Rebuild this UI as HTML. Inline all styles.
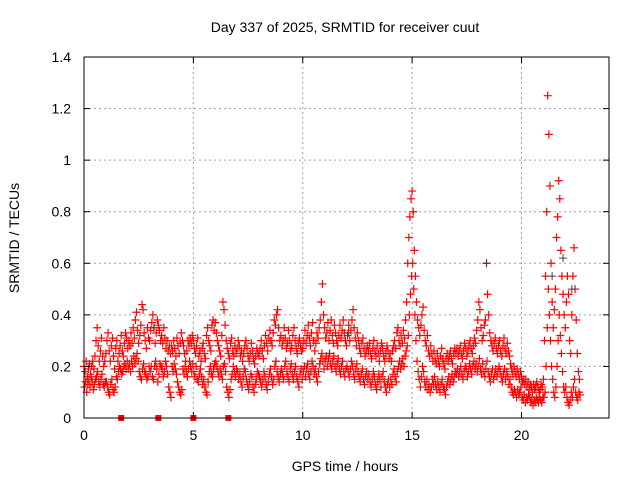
<!DOCTYPE html>
<html><head><meta charset="utf-8"><style>
body{margin:0;background:#fff}
svg{display:block;font-family:"Liberation Sans",sans-serif}
</style></head><body>
<svg id="chart" width="640" height="480">
<text x="345" y="32" font-size="14" text-anchor="middle">Day 337 of 2025, SRMTID for receiver cuut</text>
<text x="345" y="471" font-size="14" text-anchor="middle">GPS time / hours</text>
<text transform="translate(19,238) rotate(-90)" font-size="14" text-anchor="middle">SRMTID / TECUs</text>
<g id="grid"></g>
<g id="marks"></g>
<g id="axes"></g>
</svg>
<script>
const xTicks=[0,5,10,15,20];
const yTicks=[0,0.2,0.4,0.6,0.8,1,1.2,1.4];
const yTickLabels=["0","0.2","0.4","0.6","0.8","1","1.2","1.4"];
const step=0.05;
const seriesA=[
.20,.18,.22,.16,.19,.21,.17,.20,.22,.19,.24,.30,.35,.28,.22,.26,.31,.24,.20,.22,
.25,.30,.33,.26,.22,.28,.31,.24,.19,.27,.30,.22,.25,.28,.32,.26,.24,.29,.33,.31,
.27,.30,.28,.33,.29,.35,.31,.38,.41,.34,.29,.32,.36,.44,.42,.33,.30,.27,.35,.31,
.30,.34,.37,.40,.35,.29,.33,.38,.36,.34,.30,.32,.29,.35,.31,.27,.30,.26,.28,.25,
.28,.26,.30,.27,.24,.31,.28,.25,.29,.33,.30,.28,.25,.22,.26,.30,.28,.31,.29,.32,
.30,.27,.25,.28,.31,.24,.26,.22,.27,.29,.25,.23,.32,.35,.30,.28,.26,.36,.38,.34,
.37,.33,.30,.28,.26,.24,.32,.45,.42,.36,.30,.27,.25,.23,.29,.31,.26,.24,.28,.25,
.27,.30,.28,.24,.26,.22,.25,.28,.30,.27,.24,.22,.25,.29,.26,.23,.21,.24,.27,.25,
.24,.27,.30,.26,.23,.28,.32,.29,.26,.31,.34,.30,.28,.33,.38,.36,.40,.42,.35,.30,
.32,.28,.30,.35,.31,.27,.29,.34,.30,.26,.28,.32,.35,.30,.27,.25,.29,.31,.28,.26,
.27,.30,.34,.29,.32,.36,.31,.28,.33,.37,.30,.26,.29,.33,.31,.35,.38,.45,.52,.40,
.35,.31,.33,.37,.30,.34,.38,.32,.29,.36,.33,.30,.28,.32,.36,.31,.34,.38,.33,.30,
.28,.32,.36,.30,.34,.38,.42,.35,.31,.28,.33,.30,.27,.25,.29,.31,.27,.24,.26,.28,
.26,.29,.25,.23,.27,.30,.26,.24,.28,.25,.22,.26,.29,.27,.24,.22,.25,.28,.26,.23,
.25,.22,.26,.28,.30,.27,.33,.35,.30,.28,.32,.29,.34,.31,.38,.45,.60,.70,.78,.85,
.88,.80,.65,.55,.45,.38,.35,.32,.36,.40,.43,.34,.30,.28,.32,.26,.24,.28,.25,.22,
.26,.23,.21,.25,.22,.20,.24,.27,.23,.21,.19,.23,.25,.22,.24,.26,.23,.21,.25,.27,
.25,.27,.24,.26,.28,.25,.23,.26,.29,.27,.24,.26,.28,.30,.27,.25,.28,.31,.29,.34,
.38,.45,.42,.35,.30,.32,.36,.38,.60,.48,.40,.33,.30,.28,.26,.29,.31,.27,.25,.28,
.30,.26,.24,.28,.31,.27,.25,.29,.26,.24,.21,.19,.17,.20,.18,.16,.19,.17,.15,.18,
.16,.14,.15,.13,.15,.12,.14,.11,.13,.12,.10,.13,.11,.12,.14,.12,.10,.11,.13,.12,
.15,.30,.55,.80,1.25,1.10,.90,.60,.45,.35,.42,.50,.70,.78,.92,.85,.65,.55,.48,.40,
.35,.45,.55,.48,.30,.25,.40,.55,.66,.50,.38,.25,.18,.15];
const seriesB=[
.12,.14,.10,.13,.15,.12,.16,.14,.11,.13,.15,.16,.18,.14,.12,.15,.17,.13,.12,.14,
.14,.12,.10,.09,.13,.15,.11,.10,.12,.16,.15,.18,.20,.19,.17,.18,.20,.21,.19,.22,
.19,.21,.18,.22,.20,.24,.21,.23,.25,.22,.18,.16,.15,.19,.21,.18,.17,.15,.16,.20,
.18,.20,.16,.15,.20,.22,.19,.14,.17,.21,.20,.19,.16,.18,.22,.20,.17,.12,.10,.08,
.20,.18,.21,.19,.17,.14,.12,.10,.09,.11,.19,.17,.20,.18,.16,.19,.22,.20,.18,.21,
.18,.16,.20,.15,.14,.17,.19,.16,.13,.15,.12,.10,.09,.14,.18,.20,.17,.16,.19,.21,
.22,.20,.18,.16,.19,.17,.15,.20,.21,.18,.12,.10,.08,.11,.15,.17,.20,.18,.16,.19,
.18,.15,.17,.14,.12,.16,.19,.18,.15,.13,.11,.14,.17,.16,.12,.10,.13,.15,.18,.17,
.16,.14,.12,.15,.18,.16,.13,.11,.14,.17,.19,.16,.13,.15,.20,.22,.18,.16,.14,.17,
.19,.17,.15,.20,.22,.18,.16,.14,.19,.21,.17,.15,.18,.20,.16,.14,.12,.17,.19,.15,
.18,.20,.16,.19,.21,.17,.15,.18,.22,.20,.17,.19,.16,.14,.18,.21,.23,.25,.22,.19,
.22,.24,.20,.23,.25,.21,.19,.22,.24,.20,.18,.21,.23,.19,.17,.20,.22,.18,.16,.19,
.20,.18,.16,.19,.22,.20,.17,.15,.19,.21,.18,.16,.14,.17,.19,.15,.13,.16,.18,.15,
.17,.14,.12,.15,.18,.16,.13,.11,.14,.17,.15,.12,.16,.18,.14,.12,.10,.13,.15,.12,
.15,.13,.17,.19,.16,.14,.18,.20,.22,.19,.21,.23,.20,.24,.26,.28,.32,.40,.48,.55,
.60,.50,.40,.30,.22,.18,.15,.12,.16,.20,.18,.14,.12,.15,.11,.13,.10,.12,.15,.13,
.16,.13,.11,.14,.12,.10,.13,.15,.12,.11,.09,.12,.14,.16,.13,.15,.17,.14,.16,.18,
.17,.19,.16,.18,.20,.17,.15,.18,.20,.19,.16,.18,.21,.19,.17,.20,.22,.19,.21,.18,
.20,.23,.19,.17,.21,.18,.16,.19,.22,.18,.16,.14,.17,.19,.15,.17,.19,.16,.18,.20,
.18,.16,.14,.17,.19,.15,.18,.16,.13,.15,.12,.10,.09,.11,.10,.08,.11,.09,.10,.12,
.08,.07,.09,.06,.08,.07,.09,.08,.06,.07,.05,.07,.06,.08,.07,.06,.08,.07,.06,.08,
.08,.10,.20,.35,.50,.40,.30,.20,.15,.10,.08,.12,.20,.30,.40,.32,.25,.18,.12,.10,
.12,.08,.06,.05,.07,.10,.08,.12,.15,.10,.08,.07,.10,.09];
const blackTimes=[18.4,21.4,21.9,22.3,3.2,12.1];
const blackValues=[0.60,0.55,0.62,0.50,0.35,0.33];
const gapTimes=[1.7,3.4,5.0,6.6];

const L=84,R=609,T=57,B=418,xMax=24,yMax=1.4;
const X=v=>L+(R-L)*v/xMax;
const Y=v=>B-(B-T)*v/yMax;
const NS="http://www.w3.org/2000/svg";
function mk(tag,attrs,parent){const e=document.createElementNS(NS,tag);for(const k in attrs)e.setAttribute(k,attrs[k]);parent.appendChild(e);return e;}
const grid=document.getElementById('grid'),marks=document.getElementById('marks'),axes=document.getElementById('axes');
xTicks.forEach(t=>{
  if(t>0){const g=mk('line',{x1:X(t),x2:X(t),y1:T,y2:B,stroke:'#a0a0a0','stroke-dasharray':'2,3'},grid);
  
  }
  mk('line',{x1:X(t),x2:X(t),y1:B,y2:B-6,stroke:'#000'},axes);
  mk('line',{x1:X(t),x2:X(t),y1:T,y2:T+6,stroke:'#000'},axes);
  const lb=mk('text',{x:X(t),y:B+22,'font-size':14,'text-anchor':'middle'},axes);lb.textContent=t;
  
  
});
yTicks.forEach((t,i)=>{
  if(t>0&&t<yMax){const g=mk('line',{x1:L,x2:R,y1:Y(t),y2:Y(t),stroke:'#a0a0a0','stroke-dasharray':'2,3'},grid);
  
  }
  mk('line',{x1:L,x2:L+6,y1:Y(t),y2:Y(t),stroke:'#000'},axes);
  mk('line',{x1:R,x2:R-6,y1:Y(t),y2:Y(t),stroke:'#000'},axes);
  const lb=mk('text',{x:71,y:Y(t)+5,'font-size':14,'text-anchor':'end'},axes);lb.textContent=yTickLabels[i];
  
  
});
const frame=mk('rect',{x:L,y:T,width:R-L,height:B-T,fill:'none',stroke:'#000'},axes);


function plus(x,y){return `M${x-4},${y}h8M${x},${y-4}v8`;}
let dRed='';
seriesA.forEach((v,i)=>{dRed+=plus(X(i*step),Y(v));});
seriesB.forEach((v,i)=>{dRed+=plus(X(i*step+0.025),Y(v));});
const pr=mk('path',{d:dRed,stroke:'#ff0000','stroke-width':1.2,fill:'none'},marks);


let dBlk='';
blackTimes.forEach((t,i)=>{dBlk+=plus(X(t),Y(blackValues[i]));});
const pb=mk('path',{d:dBlk,stroke:'#404040','stroke-width':1,fill:'none'},marks);


gapTimes.forEach(t=>{
  const r=mk('rect',{x:X(t)-3,y:B-3,width:6,height:6,fill:'#ff0000'},marks);
  
  
});
</script>
</body></html>
